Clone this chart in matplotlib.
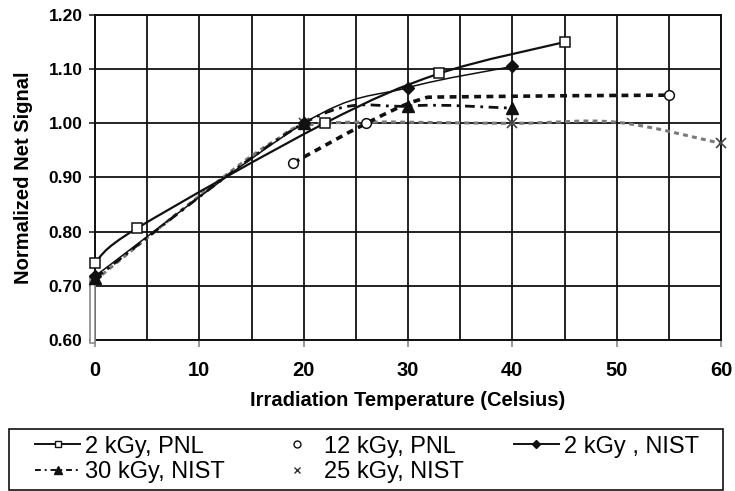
import matplotlib

matplotlib.use("Agg")

import matplotlib.pyplot as plt
import numpy as np
from matplotlib.lines import Line2D
from matplotlib.patches import PathPatch, Rectangle
from matplotlib.path import Path

# marker series
pnl2_x = [0, 4, 22, 33, 45]
pnl2_y = [0.743, 0.806, 1.000, 1.092, 1.150]
pnl12_x = [19, 26, 55]
pnl12_y = [0.927, 1.000, 1.052]
nist2_x = [0, 20, 30, 40]
nist2_y = [0.718, 1.000, 1.066, 1.105]
nist30_x = [0, 20, 30, 40]
nist30_y = [0.714, 1.000, 1.032, 1.028]
nist25_x = [0, 20, 40, 60]
nist25_y = [0.710, 1.000, 1.000, 0.963]

# unlabelled curves drawn through the 12 kGy and 25 kGy data
curve12_x = [19, 26, 31, 35, 55]
curve12_y = [0.927, 1.000, 1.043, 1.049, 1.052]
curve25_x = [0, 10, 17, 22, 40, 50, 60]
curve25_y = [0.710, 0.866, 0.965, 1.000, 1.000, 1.002, 0.963]

# narrow bar sitting on the left axis
bar_x = [0]
bar_top = [0.715]
bar_base = 0.595

x_ticks = [0, 10, 20, 30, 40, 50, 60]
y_ticks = [0.60, 0.70, 0.80, 0.90, 1.00, 1.10, 1.20]

BOLD = {"family": "Liberation Sans", "weight": "bold"}


def smooth_path(xs, ys):
    # excel-style smoothed line: cubic bezier segments through every point
    pts = np.column_stack([xs, ys]).astype(float)
    n = len(pts)
    verts = [pts[0]]
    codes = [Path.MOVETO]
    for i in range(n - 1):
        p0 = pts[i - 1] if i > 0 else pts[i]
        p1 = pts[i]
        p2 = pts[i + 1]
        p3 = pts[i + 2] if i + 2 < n else pts[i + 1]
        verts += [p1 + (p2 - p0) / 6, p2 - (p3 - p1) / 6, p2]
        codes += [Path.CURVE4] * 3
    return Path(verts, codes)


def add_curve(ax, xs, ys, **kw):
    patch = PathPatch(smooth_path(xs, ys), fill=False, capstyle="butt", **kw)
    ax.add_patch(patch)


fig = plt.figure(figsize=(7.35, 4.91), dpi=100)
ax = fig.add_axes([95 / 735, 1 - 340 / 491, 626 / 735, 325 / 491])

ax.set_xlim(0, 60)
ax.set_ylim(0.6, 1.2)
ax.set_xticks(np.arange(0, 61, 5), minor=True)
ax.set_xticks(x_ticks)
ax.set_yticks(y_ticks)
ax.set_xticklabels([str(v) for v in x_ticks], fontdict=BOLD, fontsize=14.5)
ax.set_yticklabels([f"{v:.2f}" for v in y_ticks], fontdict=BOLD, fontsize=12.5)
ax.tick_params(axis="x", which="major", direction="out", length=5, width=1.2,
               color="#888888", pad=10)
ax.tick_params(axis="x", which="minor", length=0)
ax.tick_params(axis="y", direction="out", length=4, width=1.2, color="#222222", pad=5)
ax.grid(which="both", axis="x", color="#111111", linewidth=1.3)
ax.grid(axis="y", color="#111111", linewidth=1.3)
ax.set_axisbelow(True)
for sp in ax.spines.values():
    sp.set_color("#111111")
    sp.set_linewidth(1.4)

ax.set_xlabel("Irradiation Temperature (Celsius)", fontdict=BOLD, fontsize=14.5, labelpad=8)
ax.set_ylabel("Normalized Net Signal", fontdict=BOLD, fontsize=14.5, labelpad=11)

ax.bar(bar_x, [t - bar_base for t in bar_top], width=-0.45, align="edge",
       bottom=bar_base, color="white", edgecolor="#8a8a8a", linewidth=1.2,
       clip_on=False, zorder=3)

# lines
add_curve(ax, curve25_x, curve25_y, edgecolor="#7a7a7a", linewidth=2.2,
          linestyle=(0, (1.6, 1.4)), zorder=4)
add_curve(ax, curve12_x, curve12_y, edgecolor="#111111", linewidth=2.6,
          linestyle=(0, (1.9, 1.5)), zorder=4)
add_curve(ax, nist30_x, nist30_y, edgecolor="#111111", linewidth=2.0,
          linestyle=(0, (3.5, 2.0, 1.0, 2.0)), zorder=4)
add_curve(ax, nist2_x, nist2_y, edgecolor="#111111", linewidth=1.1, zorder=4)
add_curve(ax, pnl2_x, pnl2_y, edgecolor="#111111", linewidth=1.6, zorder=4)

# markers
ax.plot(nist25_x, nist25_y, linestyle="none", marker="x", ms=7, mew=1.2,
        color="#444444", zorder=5, clip_on=False)
ax.plot(nist30_x, nist30_y, linestyle="none", marker="^", ms=8,
        color="#111111", zorder=6, clip_on=False)
ax.plot(nist2_x, nist2_y, linestyle="none", marker="D", ms=6,
        color="#111111", zorder=6, clip_on=False)
ax.plot(pnl12_x, pnl12_y, linestyle="none", marker="o", ms=7, mfc="white",
        mec="#111111", mew=1.1, zorder=7, clip_on=False)
ax.plot(pnl2_x, pnl2_y, linestyle="none", marker="s", ms=6.5, mfc="white",
        mec="#111111", mew=1.1, zorder=7, clip_on=False)

# legend, filled column by column
handles = [
    Line2D([], [], color="#111111", lw=1.4, marker="s", ms=5, mfc="white", mec="#111111"),
    Line2D([], [], color="#111111", lw=1.4, linestyle=(0, (3, 2, 1, 2)),
           marker="^", ms=6, mfc="#111111", mec="#111111"),
    Line2D([], [], linestyle="none", marker="o", ms=5, mfc="white", mec="#111111"),
    Line2D([], [], linestyle="none", marker="x", ms=5, mec="#333333"),
    Line2D([], [], color="#111111", lw=1.4, marker="D", ms=4.5, mfc="#111111", mec="#111111"),
]
labels = ["2 kGy, PNL", "30 kGy, NIST", "12 kGy, PNL", "25 kGy, NIST", "2 kGy , NIST"]
fig.legend(handles, labels, ncol=3, mode="expand", frameon=False,
           loc="center", bbox_to_anchor=(33 / 735, 1 - 488 / 491, 668 / 735, 57 / 491),
           prop={"family": "Liberation Sans", "size": 17},
           handlelength=1.9, handletextpad=0.2, labelspacing=0.15, borderpad=0.1,
           borderaxespad=0)
fig.add_artist(Rectangle((9 / 735, 1 - 490 / 491), 714 / 735, 61 / 491,
                         transform=fig.transFigure, fill=False,
                         edgecolor="#111111", linewidth=1.2))

fig.savefig("out.png", dpi=100)
plt.close(fig)
